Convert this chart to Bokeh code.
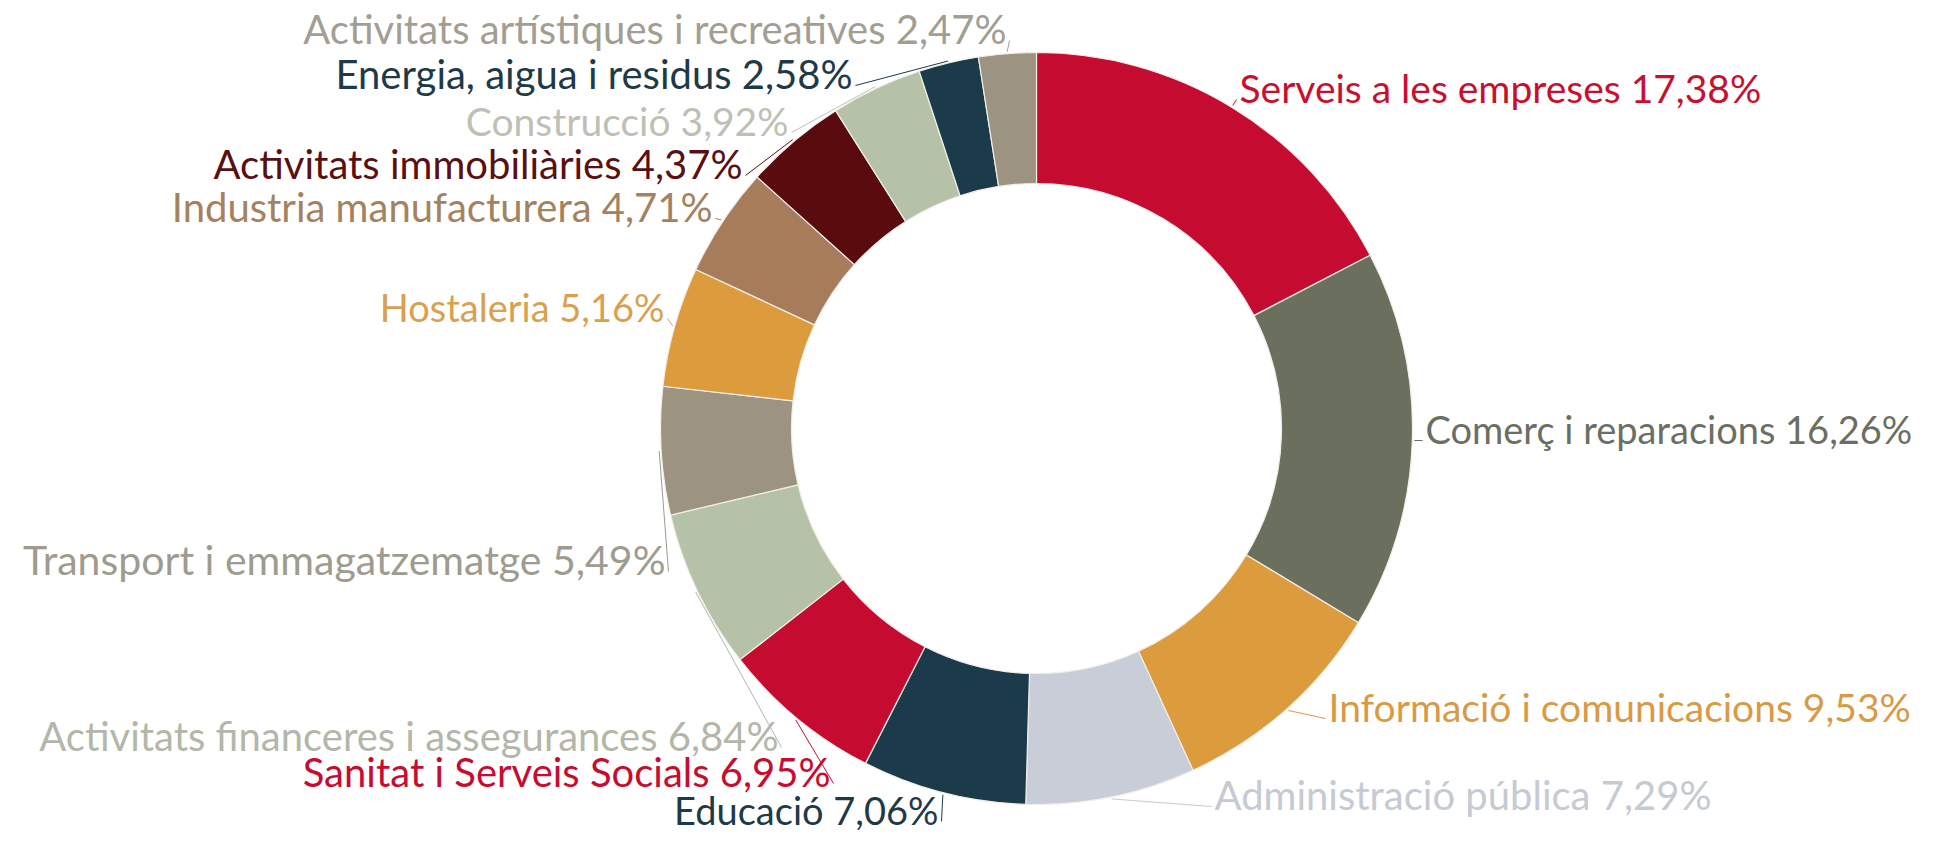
import math
from bokeh.plotting import figure
from bokeh.models import Range1d, ColumnDataSource
from bokeh.embed import file_html
from bokeh.resources import INLINE
from bokeh.core.properties import value

# ---- data ----
labels = ["Serveis a les empreses", "Comerç i reparacions", "Informació i comunicacions",
          "Administració pública", "Educació", "Sanitat i Serveis Socials",
          "Activitats financeres i assegurances", "Transport i emmagatzematge",
          "Hostaleria", "Industria manufacturera", "Activitats immobiliàries",
          "Construcció", "Energia, aigua i residus", "Activitats artístiques i recreatives"]
values = [17.38, 16.26, 9.53, 7.29, 7.06, 6.95, 6.84, 5.49, 5.16, 4.71, 4.37, 3.92, 2.58, 2.47]
wedge_colors = ["#C60B30", "#6A705D", "#DC9B3C", "#C8CDD8", "#1B3A4A", "#C60B30", "#B6C2A8",
                "#9C9480", "#DC9B3C", "#A67C5B", "#5A0B0E", "#B6C2A8", "#1B3A4A", "#9C9480"]
label_colors = ["#C8102E", "#6B6F63", "#D99A45", "#C5CAD3", "#1E3A48", "#C60C30", "#B3B7AA",
                "#9E9B90", "#D9A050", "#A5825F", "#5A1012", "#BEC0B5", "#1E3A48", "#A29E92"]

# ---- layout (screen pixels, y downward) ----
W, H = 1927, 834
CX, CY = 1036, 428
R_OUT, R_IN = 376, 245
# label anchor: (x, y, align, font size)
label_pos = [(1239, 87, "left", 39), (1425, 428, "left", 38), (1328, 706, "left", 39),
             (1214, 794, "left", 40), (938, 809, "right", 38), (830, 771, "right", 40),
             (778, 735, "right", 40), (665, 559, "right", 41), (664, 306, "right", 38),
             (712, 206, "right", 40), (742, 163, "right", 40), (788, 120, "right", 39),
             (852, 73, "right", 40), (1006, 28, "right", 40)]

def sy(y):
    return 842 - y

p = figure(width=W, height=H, x_range=Range1d(0, W), y_range=Range1d(842 - H, 842),
           output_backend="svg", toolbar_location=None, min_border=0)
p.axis.visible = False
p.grid.visible = False
p.outline_line_color = None
p.background_fill_color = "white"
p.border_fill_color = "white"

total = sum(values)
starts, ends, mids = [], [], []
acc = 0.0
for v in values:
    a0 = acc / total
    acc += v
    a1 = acc / total
    starts.append(math.pi / 2 - a0 * 2 * math.pi)
    ends.append(math.pi / 2 - a1 * 2 * math.pi)
    mids.append((a0 + a1) / 2 * 2 * math.pi)

src = ColumnDataSource(dict(x=[CX] * len(values), y=[sy(CY)] * len(values),
                            start=starts, end=ends, color=wedge_colors))
p.annular_wedge(x="x", y="y", inner_radius=R_IN, outer_radius=R_OUT,
                start_angle="start", end_angle="end", direction="clock",
                fill_color="color", line_color="#F2EEE8", line_width=1.2, source=src)

# leader lines
for i, (lx, ly, al, fs) in enumerate(label_pos):
    th = mids[i]
    px = CX + (R_OUT + 2) * math.sin(th)
    py = CY - (R_OUT + 2) * math.cos(th)
    ex = lx - 3 if al == "left" else lx + 3
    ey = ly + 12
    p.line([px, ex], [sy(py), sy(ey)], line_color=label_colors[i], line_width=1)

texts = [f"{l} {str(v).replace('.', ',')}%" for l, v in zip(labels, values)]
tsrc = ColumnDataSource(dict(x=[q[0] for q in label_pos], y=[sy(q[1]) for q in label_pos],
                             text=texts, align=[q[2] for q in label_pos],
                             size=[f"{q[3]}px" for q in label_pos], color=label_colors))
p.text(x="x", y="y", text="text", text_align="align", text_baseline="middle",
       text_color="color", text_font=value("Lato"), text_font_size="size", source=tsrc)

open("out.html", "w").write(file_html(p, INLINE))
